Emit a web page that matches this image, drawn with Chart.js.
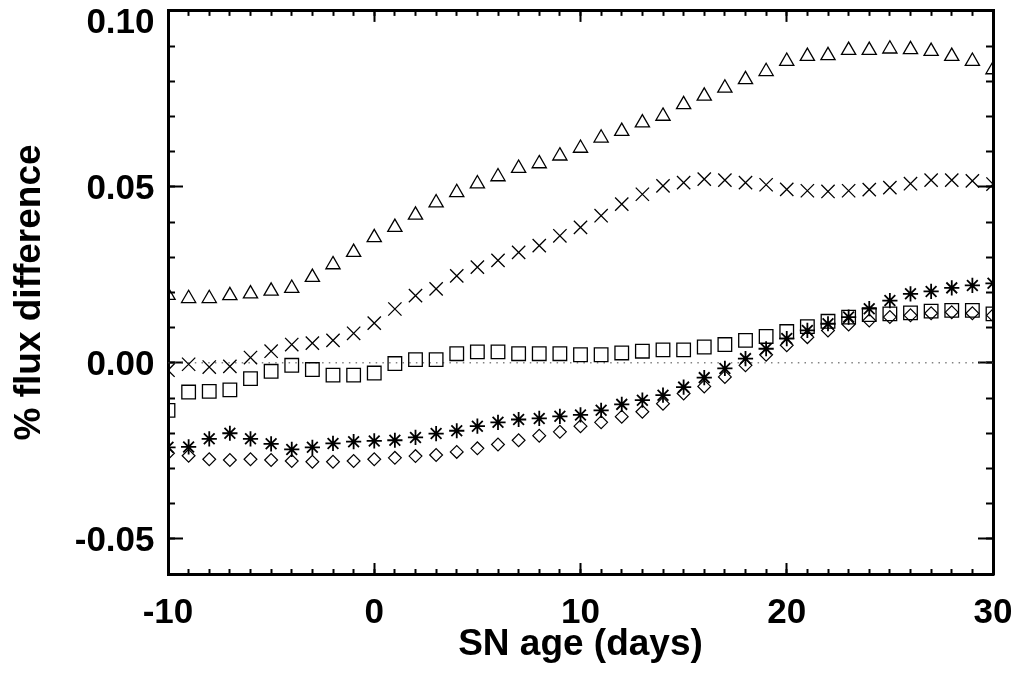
<!DOCTYPE html>
<html>
<head>
<meta charset="utf-8">
<script src="https://cdn.jsdelivr.net/npm/chart.js@4.4.0/dist/chart.umd.min.js"></script>
<style>
html,body{margin:0;padding:0;background:#fff;}
#c{display:block;}
</style>
</head>
<body>
<canvas id="c" width="1022" height="681"></canvas>
<script>
// ---- data ----
const days = [-10,-9,-8,-7,-6,-5,-4,-3,-2,-1,0,1,2,3,4,5,6,7,8,9,10,11,12,13,14,15,16,17,18,19,20,21,22,23,24,25,26,27,28,29,30];

const triangles = [0.0192,0.0183,0.0183,0.0191,0.0196,0.0204,0.0212,0.0243,0.0279,0.0314,
  0.0356,0.0385,0.0420,0.0455,0.0484,0.0509,0.0529,0.0553,0.0566,0.0588,
  0.0610,0.0639,0.0658,0.0682,0.0701,0.0734,0.0758,0.0781,0.0805,0.0828,
  0.0857,0.0871,0.0873,0.0888,0.0888,0.0892,0.0890,0.0885,0.0871,0.0857,0.0833];

const crosses = [-0.0021,-0.0004,-0.0012,-0.0010,0.0015,0.0033,0.0052,0.0056,0.0064,0.0084,
  0.0113,0.0153,0.0191,0.0210,0.0247,0.0272,0.0291,0.0314,0.0333,0.0361,
  0.0385,0.0418,0.0451,0.0479,0.0503,0.0512,0.0522,0.0519,0.0512,0.0506,
  0.0493,0.0489,0.0487,0.0489,0.0492,0.0498,0.0509,0.0519,0.0519,0.0517,0.0508];

const squares = [-0.0135,-0.0083,-0.0081,-0.0077,-0.0045,-0.0024,-0.0007,-0.0019,-0.0035,-0.0035,
  -0.0029,-0.0002,0.0009,0.0009,0.0026,0.0031,0.0031,0.0026,0.0026,0.0026,
  0.0023,0.0023,0.0028,0.0033,0.0037,0.0037,0.0045,0.0052,0.0064,0.0075,
  0.0089,0.0103,0.0118,0.0130,0.0137,0.0139,0.0142,0.0147,0.0149,0.0149,0.0139];

const asterisks = [-0.0240,-0.0239,-0.0216,-0.0200,-0.0216,-0.0230,-0.0246,-0.0240,-0.0229,-0.0224,
  -0.0222,-0.0220,-0.0212,-0.0201,-0.0193,-0.0180,-0.0169,-0.0161,-0.0158,-0.0152,
  -0.0148,-0.0135,-0.0118,-0.0106,-0.0092,-0.0069,-0.0042,-0.0016,0.0012,0.0040,
  0.0069,0.0092,0.0111,0.0130,0.0154,0.0177,0.0196,0.0203,0.0213,0.0220,0.0226];

const diamonds = [-0.0257,-0.0264,-0.0274,-0.0276,-0.0274,-0.0276,-0.0279,-0.0281,-0.0281,-0.0279,
  -0.0274,-0.0270,-0.0265,-0.0262,-0.0253,-0.0243,-0.0232,-0.0220,-0.0207,-0.0196,
  -0.0180,-0.0169,-0.0153,-0.0139,-0.0116,-0.0087,-0.0067,-0.0040,-0.0007,0.0023,
  0.0050,0.0073,0.0092,0.0109,0.0120,0.0130,0.0135,0.0141,0.0144,0.0141,0.0135];

const zeroLineX = [-10, 30];
const zeroLineY = [0, 0];

const xMajorTicks = [-10, 0, 10, 20, 30];
const xMinorTicks = days;
const yMajorTicks = [-0.05, 0.00, 0.05, 0.10];
const yMinorTicks = [-0.06,-0.05,-0.04,-0.03,-0.02,-0.01,0.00,0.01,0.02,0.03,0.04,0.05,0.06,0.07,0.08,0.09,0.10];

const xTitle = 'SN age (days)';
const yTitle = '% flux difference';

// ---- helpers ----
const pts = (xs, ys) => xs.map((x, i) => ({x: x, y: ys[i]}));
const FONT = "'Liberation Sans', Arial, Helvetica, sans-serif";
const xTickFont = {family: FONT, size: 35, weight: 'bold'};
// small line height: lets the top label (0.10) sit just below its tick as in the reference
const yTickFont = {family: FONT, size: 35, weight: 'bold', lineHeight: 0.54};
const titleFont = {family: FONT, size: 37, weight: 'bold'};
const setTicks = arr => (s => { s.ticks = arr.map(v => ({value: v})); });
const zeroPad = s => { s.paddingLeft = 0; s.paddingRight = 0; s.paddingTop = 0; s.paddingBottom = 0; };
const fitH = h => (s => { s.height = h; zeroPad(s); });
const fitW = w => (s => { s.width = w; zeroPad(s); });

function marker(data, style, radius, bw) {
  return {
    data: pts(days, data),
    pointStyle: style,
    pointRadius: radius,
    pointHoverRadius: radius,
    pointBorderColor: '#000',
    pointBackgroundColor: 'rgba(0,0,0,0)',
    pointBorderWidth: bw,
    borderColor: '#000',
    showLine: false,
    clip: 0
  };
}

Chart.defaults.color = '#000';

function tickAxis(pos, weight, min, max, ticks, len, border, fit) {
  return {
    type: 'linear', position: pos, weight: weight, min: min, max: max,
    afterBuildTicks: setTicks(ticks),
    ticks: {display: false},
    grid: {drawOnChartArea: false, drawTicks: true, tickLength: len, tickWidth: 2, tickColor: '#000'},
    border: border ? {display: true, width: 3, color: '#000'} : {display: false},
    afterFit: fit
  };
}

new Chart(document.getElementById('c'), {
  type: 'scatter',
  data: {
    datasets: [
      marker(triangles, 'triangle', 8.2, 1.3),
      marker(crosses, 'crossRot', 9.4, 1.3),
      marker(squares, 'rect', 9.6, 1.3),
      marker(asterisks, 'star', 7.6, 1.8),
      marker(diamonds, 'rectRot', 6.4, 1.2),
      {
        type: 'line',
        data: pts(zeroLineX, zeroLineY),
        borderColor: '#444',
        borderWidth: 1,
        borderDash: [1.5, 5.2],
        pointRadius: 0,
        fill: false,
        order: 10,
        clip: 0
      }
    ]
  },
  options: {
    responsive: false,
    animation: false,
    events: [],
    layout: {padding: {top: 10, right: 29, left: 0, bottom: 0}},
    plugins: {legend: {display: false}, tooltip: {enabled: false}},
    scales: {
      x: {
        type: 'linear', position: 'bottom', weight: 2, min: -10, max: 30,
        afterBuildTicks: setTicks(xMajorTicks),
        ticks: {font: xTickFont, color: '#000', padding: 29.5, maxRotation: 0, autoSkip: false,
                callback: v => String(v)},
        grid: {drawOnChartArea: false, drawTicks: true, tickLength: -11, tickWidth: 2, tickColor: '#000'},
        border: {display: true, width: 3, color: '#000'},
        title: {display: true, text: xTitle, font: titleFont, color: '#000', padding: {top: 0, bottom: 14}},
        afterFit: fitH(107)
      },
      xm: tickAxis('bottom', 0, -10, 30, xMinorTicks, -5, false, fitH(0)),
      xt: tickAxis('top', 2, -10, 30, xMajorTicks, -11, true, fitH(0)),
      xtm: tickAxis('top', 0, -10, 30, xMinorTicks, -5, false, fitH(0)),
      y: {
        type: 'linear', position: 'left', weight: 2, min: -0.06, max: 0.10,
        afterBuildTicks: setTicks(yMajorTicks),
        ticks: {font: yTickFont, color: '#000', padding: 28.5, labelOffset: 2.5, autoSkip: false,
                callback: v => (Math.abs(v - 0.10) < 1e-9 ? ['', v.toFixed(2)] : v.toFixed(2))},
        grid: {drawOnChartArea: false, drawTicks: true, tickLength: -15, tickWidth: 2, tickColor: '#000'},
        border: {display: true, width: 3, color: '#000'},
        title: {display: true, text: yTitle, font: titleFont, color: '#000', padding: {top: 8, bottom: 0}},
        afterFit: fitW(168)
      },
      ym: tickAxis('left', 0, -0.06, 0.10, yMinorTicks, -7, false, fitW(0)),
      yr: tickAxis('right', 2, -0.06, 0.10, yMajorTicks, -15, true, fitW(0)),
      yrm: tickAxis('right', 0, -0.06, 0.10, yMinorTicks, -7, false, fitW(0))
    }
  }
});
</script>
</body>
</html>
